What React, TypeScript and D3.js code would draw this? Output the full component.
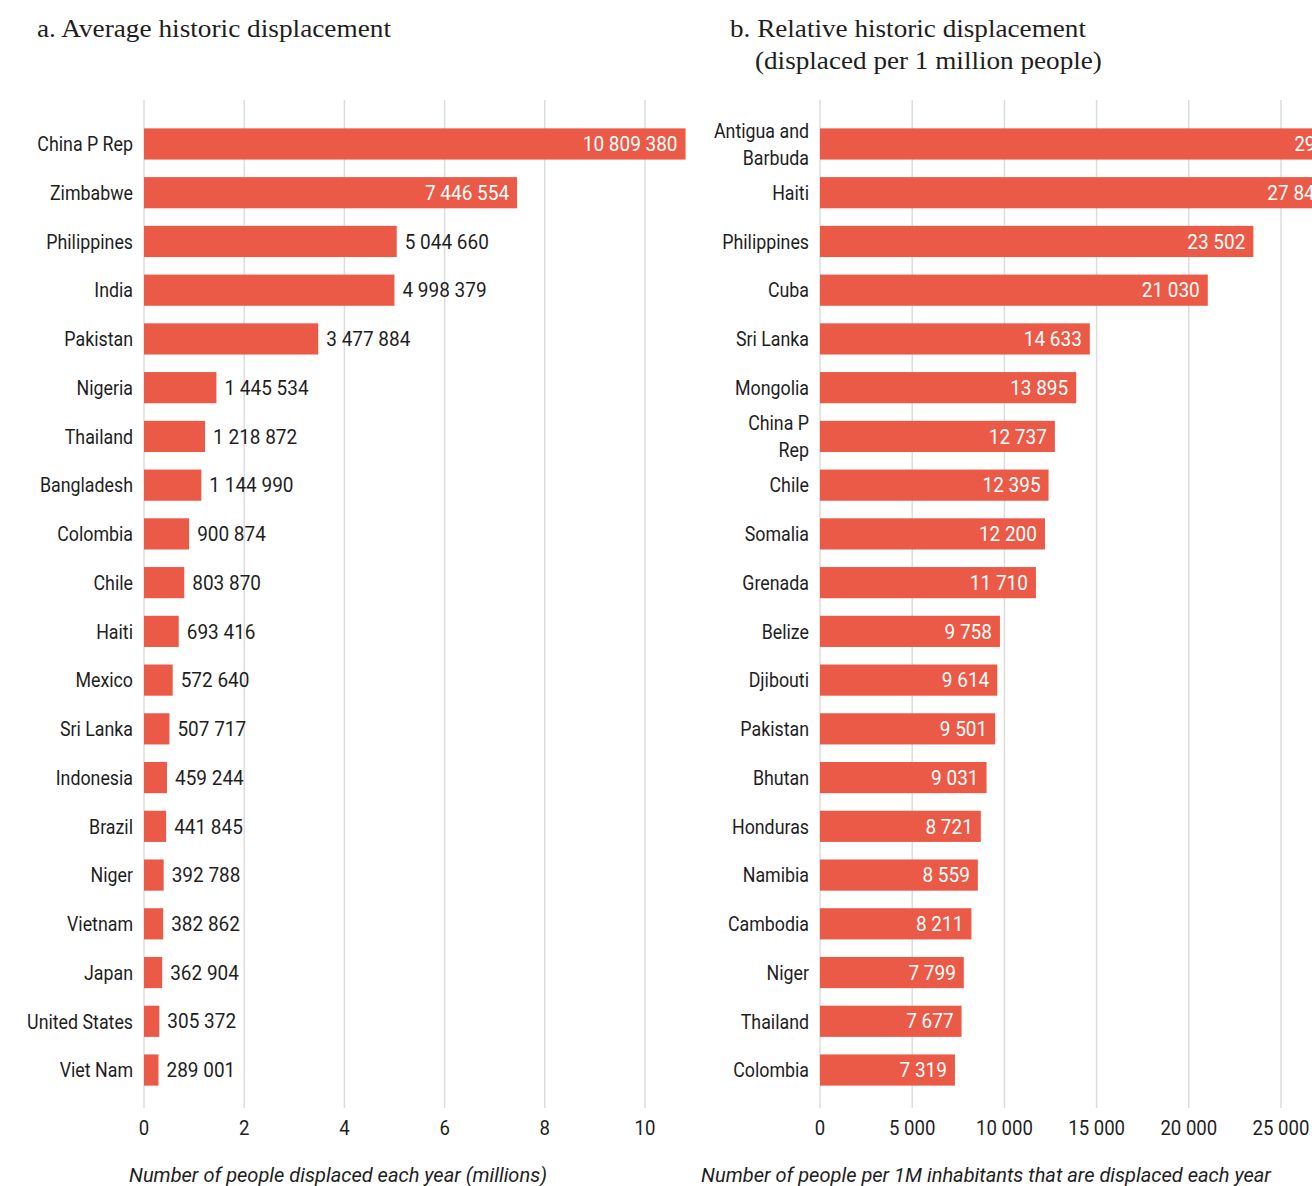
import React from "react";
import * as d3 from "d3";

const leftCategories = [
  "China P Rep", "Zimbabwe", "Philippines", "India", "Pakistan", "Nigeria", "Thailand",
  "Bangladesh", "Colombia", "Chile", "Haiti", "Mexico", "Sri Lanka", "Indonesia", "Brazil",
  "Niger", "Vietnam", "Japan", "United States", "Viet Nam",
];
const leftValues = [
  10809380, 7446554, 5044660, 4998379, 3477884, 1445534, 1218872, 1144990, 900874, 803870,
  693416, 572640, 507717, 459244, 441845, 392788, 382862, 362904, 305372, 289001,
];
const leftTicks = [0, 2, 4, 6, 8, 10];

const rightCategories = [
  "Antigua and Barbuda", "Haiti", "Philippines", "Cuba", "Sri Lanka", "Mongolia", "China P Rep",
  "Chile", "Somalia", "Grenada", "Belize", "Djibouti", "Pakistan", "Bhutan", "Honduras",
  "Namibia", "Cambodia", "Niger", "Thailand", "Colombia",
];
const rightLabelLines: Record<string, string[]> = {
  "Antigua and Barbuda": ["Antigua and", "Barbuda"],
  "China P Rep": ["China P", "Rep"],
};
const rightValues = [
  29300, 27845, 23502, 21030, 14633, 13895, 12737, 12395, 12200, 11710, 9758, 9614, 9501,
  9031, 8721, 8559, 8211, 7799, 7677, 7319,
];
const rightTicks = [0, 5000, 10000, 15000, 20000, 25000, 30000];

const BAR = "#eb5a47";
const GRID = "#dcdcdc";
const TEXT = "#1e1e1e";
const SANS = "Roboto, 'Liberation Sans', sans-serif";
const SERIF = "'Liberation Serif', 'DejaVu Serif', serif";

const fmt = (v: number) => d3.format(",")(v).replace(/,/g, " ");

type TProps = {
  x: number;
  y: number;
  sx?: number;
  anchor?: "start" | "middle" | "end";
  size?: number;
  fill?: string;
  family?: string;
  italic?: boolean;
  dy?: string;
  children: React.ReactNode;
};

function T({ x, y, sx = 0.89, anchor = "start", size = 20, fill = TEXT, family = SANS, italic, dy, children }: TProps) {
  return (
    <text
      transform={`translate(${x},${y}) scale(${sx},1)`}
      textAnchor={anchor}
      fontFamily={family}
      fontSize={size}
      fontStyle={italic ? "italic" : "normal"}
      fill={fill}
      dy={dy}
    >
      {children}
    </text>
  );
}

export default function App() {
  const W = 1312;
  const H = 1186;
  const yTop = 119.6;
  const yBot = 1094.4;

  const xL = d3.scaleLinear().domain([0, 10]).range([144, 645]);
  const yL = d3.scaleBand<string>().domain(leftCategories).range([yTop, yBot]).paddingInner(0.36).paddingOuter(0.18);

  const xR = d3.scaleLinear().domain([0, 25000]).range([820, 1281]);
  const yR = d3.scaleBand<string>().domain(rightCategories).range([yTop, yBot]).paddingInner(0.36).paddingOuter(0.18);

  const gridTop = 100;
  const gridBot = 1108;
  const NUM = 0.95;

  return (
    <svg width={W} height={H} style={{ position: "absolute", left: 0, top: 0, background: "#fff" }}>
      <rect x={0} y={0} width={W} height={H} fill="#fff" />
      {/* Titles */}
      <T x={37} y={37} family={SERIF} size={26} sx={1.05}>a. Average historic displacement</T>
      <T x={730} y={37} family={SERIF} size={26} sx={1.045}>b. Relative historic displacement</T>
      <T x={755} y={69} family={SERIF} size={26} sx={1.045}>(displaced per 1 million people)</T>

      {/* Left chart */}
      <g>
        {leftTicks.map((t) => (
          <g key={"lg" + t}>
            <line x1={xL(t)} x2={xL(t)} y1={gridTop} y2={gridBot} stroke={GRID} strokeWidth={1.5} />
            <T x={xL(t)} y={1135} anchor="middle" sx={0.93}>{t}</T>
          </g>
        ))}
        {leftCategories.map((c, i) => {
          const v = leftValues[i] / 1e6;
          const y = yL(c)!;
          const bw = yL.bandwidth();
          const xe = xL(v);
          const inside = v > 6;
          return (
            <g key={"lb" + c}>
              <rect x={xL(0)} y={y} width={xe - xL(0)} height={bw} fill={BAR} />
              <T x={133} y={y + bw / 2} dy="0.36em" anchor="end">{c}</T>
              <T
                x={inside ? xe - 8 : xe + 8}
                y={y + bw / 2}
                dy="0.36em"
                anchor={inside ? "end" : "start"}
                fill={inside ? "#fff" : TEXT}
                sx={NUM}
              >
                {fmt(leftValues[i])}
              </T>
            </g>
          );
        })}
        <T x={338} y={1182} anchor="middle" italic size={21} sx={0.955}>
          Number of people displaced each year (millions)
        </T>
      </g>

      {/* Right chart */}
      <g>
        {rightTicks.map((t) => (
          <g key={"rg" + t}>
            {t > 0 && <line x1={xR(t)} x2={xR(t)} y1={gridTop} y2={gridBot} stroke={GRID} strokeWidth={1.5} />}
            <T x={xR(t)} y={1135} anchor="middle" sx={0.93}>{fmt(t)}</T>
          </g>
        ))}
        <line x1={xR(0)} x2={xR(0)} y1={gridTop} y2={gridBot} stroke={GRID} strokeWidth={1.5} />
        {rightCategories.map((c, i) => {
          const v = rightValues[i];
          const y = yR(c)!;
          const bw = yR.bandwidth();
          const xe = xR(v);
          const lines = rightLabelLines[c] || [c];
          return (
            <g key={"rb" + c}>
              <rect x={xR(0)} y={y} width={xe - xR(0)} height={bw} fill={BAR} />
              {lines.map((l, k) => (
                <T key={k} x={809} y={y + bw / 2 + (k - (lines.length - 1) / 2) * 27} dy="0.36em" anchor="end">
                  {l}
                </T>
              ))}
              <T x={xe - 8} y={y + bw / 2} dy="0.36em" anchor="end" fill="#fff" sx={NUM}>
                {fmt(v)}
              </T>
            </g>
          );
        })}
        <T x={986} y={1182} anchor="middle" italic size={21} sx={0.955}>
          Number of people per 1M inhabitants that are displaced each year
        </T>
      </g>
    </svg>
  );
}
